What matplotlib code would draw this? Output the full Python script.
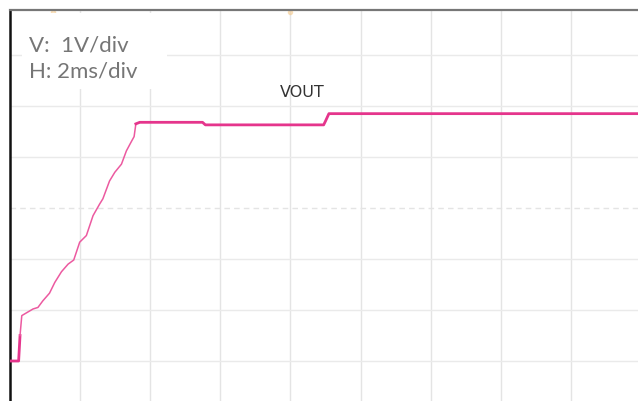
import matplotlib
matplotlib.use("Agg")
from matplotlib import pyplot as plt
from matplotlib.patches import Rectangle
import numpy as np

# VOUT trace (time in ms, voltage in V)
t_ms = [0.0, 0.26, 0.30, 0.35, 0.67, 0.81, 0.95, 1.14, 1.29, 1.48, 1.67, 1.83,
        2.00, 2.19, 2.38, 2.57, 2.66, 2.85, 3.00, 3.19, 3.33, 3.47, 3.55, 3.60,
        3.71, 5.50, 5.58, 8.95, 9.00, 9.10, 17.9]
v_out = [0.0, 0.0, 0.5, 0.89, 1.02, 1.05, 1.18, 1.33, 1.54, 1.75, 1.90, 1.98,
         2.33, 2.46, 2.85, 3.08, 3.18, 3.53, 3.70, 3.86, 4.12, 4.30, 4.40, 4.65,
         4.68, 4.68, 4.63, 4.63, 4.70, 4.85, 4.85]

trigger_t = [1.23, 7.99]

scale_text = ["V:  1V/div", "H: 2ms/div"]

fig = plt.figure(figsize=(6.38, 4.02), dpi=100)
ax = fig.add_axes([9.5 / 638, 0, 1 - 9.5 / 638, 1 - 11 / 402])
ax.set_xlim(0, (638 - 9.5) / 70.2 * 2)
ax.set_ylim(-(402 - 362) / 51, (362 - 11) / 51)

# scope graticule
for xv in np.arange(2, 18, 2):
    ax.axvline(xv, color="#e4e4e4", lw=1.0, zorder=0)
for yv in range(0, 7):
    if yv == 3:
        ax.axhline(yv, color="#e4e4e4", lw=1.0, ls=(0, (4, 3)), zorder=0)
    else:
        ax.axhline(yv, color="#eaeaea", lw=1.0, zorder=0)

# thin ramp, thicker flat parts like the scope trace
ax.plot(t_ms[:3], v_out[:3], color="#e5358c", lw=2.0, zorder=3)
ax.plot(t_ms[2:24], v_out[2:24], color="#ec5aa0", lw=1.1, zorder=3)
ax.plot(t_ms[23:], v_out[23:], color="#e5358c", lw=2.0, zorder=3)
ax.plot(trigger_t, [6.84, 6.84], ls="none", marker="o", ms=3, color="#f5c98a",
        alpha=0.5, zorder=2)

ax.text(8.33, 5.28, "VOUT", fontsize=11.5, color="#333333", ha="center", va="center",
        family="DejaVu Sans")

# white label box pasted over the graticule
ax.add_patch(Rectangle((0.36, 5.33), 4.13, 1.5, facecolor="white", edgecolor="none",
                       zorder=4))
ax.text(0.55, 5.95, scale_text[0] + "\n" + scale_text[1], fontsize=16,
        color="#767676", family="Lato", ha="left", va="center", linespacing=1.35,
        zorder=5)

ax.set_xticks([])
ax.set_yticks([])
ax.spines["right"].set_visible(False)
ax.spines["bottom"].set_visible(False)
ax.spines["left"].set_color("#111111")
ax.spines["left"].set_linewidth(1.8)
ax.spines["top"].set_color("#777777")
ax.spines["top"].set_linewidth(1.6)

fig.savefig("out.png", dpi=100, facecolor="white")
